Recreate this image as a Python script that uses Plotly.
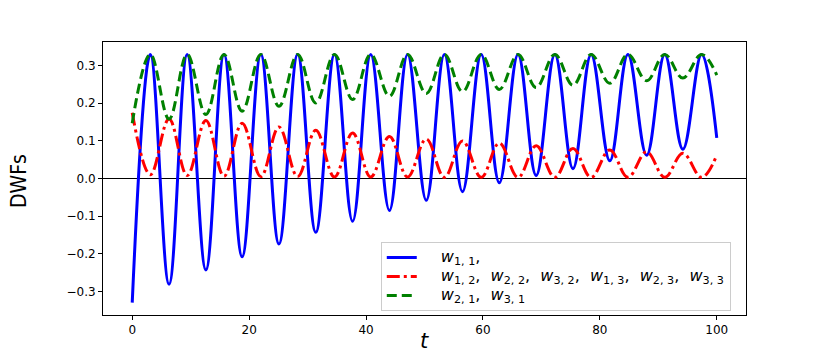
import plotly.graph_objects as go

# time points of the extrema (troughs / peaks alternate)
t = [0, 3.1, 6.3, 9.4, 12.6, 15.7, 18.8, 22.0, 25.1, 28.3, 31.4, 34.6, 37.7,
     40.8, 44.0, 47.1, 50.3, 53.4, 56.5, 59.7, 62.8, 66.0, 69.1, 72.3, 75.4,
     78.5, 81.7, 84.8, 88.0, 91.1, 94.2, 97.4, 100.0]

w11 = [-0.330, 0.330, -0.281, 0.330, -0.243, 0.330, -0.208, 0.330, -0.174,
       0.330, -0.143, 0.330, -0.114, 0.330, -0.085, 0.330, -0.058, 0.330,
       -0.035, 0.330, -0.011, 0.330, 0.008, 0.330, 0.026, 0.330, 0.047,
       0.330, 0.062, 0.330, 0.078, 0.330, 0.108]

w12 = [0.175, 0.010, 0.158, 0.008, 0.154, 0.006, 0.147, 0.005, 0.137, 0.005,
       0.128, 0.004, 0.121, 0.004, 0.112, 0.004, 0.105, 0.003, 0.100, 0.003,
       0.094, 0.003, 0.087, 0.003, 0.080, 0.003, 0.076, 0.003, 0.071, 0.003,
       0.067, 0.003, 0.062]

w21 = [0.147, 0.330, 0.158, 0.330, 0.170, 0.330, 0.179, 0.330, 0.192, 0.330,
       0.201, 0.330, 0.210, 0.330, 0.219, 0.330, 0.226, 0.330, 0.231, 0.330,
       0.237, 0.330, 0.242, 0.330, 0.248, 0.330, 0.253, 0.330, 0.260, 0.330,
       0.267, 0.330, 0.275]

sep = ",&nbsp; "
labels = [
    "<i>w</i><sub>1, 1</sub>,",
    sep.join(["<i>w</i><sub>1, 2</sub>", "<i>w</i><sub>2, 2</sub>", "<i>w</i><sub>3, 2</sub>",
              "<i>w</i><sub>1, 3</sub>", "<i>w</i><sub>2, 3</sub>", "<i>w</i><sub>3, 3</sub>"]),
    sep.join(["<i>w</i><sub>2, 1</sub>", "<i>w</i><sub>3, 1</sub>"]),
]
names = ['&nbsp;&nbsp;&nbsp;&nbsp;&nbsp;<span style="font-size:16px">' + s + '</span>'
         for s in labels]

x_ticks = [0, 20, 40, 60, 80, 100]
y_ticks = [-0.3, -0.2, -0.1, 0.0, 0.1, 0.2, 0.3]

fig = go.Figure()
fig.add_trace(go.Scatter(x=t, y=w11, mode="lines", name=names[0],
                         line=dict(color="#0000ff", width=3, shape="spline", smoothing=1.1)))
fig.add_trace(go.Scatter(x=t, y=w12, mode="lines", name=names[1],
                         line=dict(color="#ff0000", width=3, shape="spline", smoothing=1.1,
                                   dash="13px,4px,3px,4px")))
fig.add_trace(go.Scatter(x=t, y=w21, mode="lines", name=names[2],
                         line=dict(color="#008000", width=3, shape="spline", smoothing=1.1,
                                   dash="10px,5px")))

axis_common = dict(showgrid=False, showline=True, mirror=True, linecolor="black",
                   linewidth=1, ticks="outside", ticklen=4, tickwidth=1,
                   tickcolor="black", tickfont=dict(family="DejaVu Sans", size=12, color="black"))

fig.update_xaxes(range=[-5, 105], tickvals=x_ticks, zeroline=False, **axis_common)
fig.update_yaxes(range=[-0.363, 0.363], tickvals=y_ticks, tickformat=".1f",
                 zeroline=True, zerolinecolor="black", zerolinewidth=1.3, **axis_common)

fig.add_annotation(text="DWFs", xref="paper", yref="paper", x=-0.1306, y=0.491,
                   textangle=-90, showarrow=False, xanchor="center", yanchor="middle",
                   font=dict(family="DejaVu Sans Condensed, Liberation Sans Narrow, DejaVu Sans",
                             size=21, color="black"))
fig.add_annotation(text="<i>t</i>", xref="paper", yref="paper", x=0.5, y=-0.097,
                   showarrow=False, xanchor="center", yanchor="middle",
                   font=dict(family="DejaVu Sans", size=21, color="black"))

# page body has an 8px margin, so the figure is offset by 8px
fig.update_layout(
    width=814, height=346,
    margin=dict(l=95, r=76, t=34, b=39),
    paper_bgcolor="white", plot_bgcolor="white",
    showlegend=True,
    legend=dict(x=0.432, y=0.015, xanchor="left", yanchor="bottom",
                bgcolor="rgba(255,255,255,0.8)", bordercolor="#cccccc", borderwidth=1,
                font=dict(family="DejaVu Sans", size=12, color="black"),
                tracegroupgap=0, itemwidth=30),
)

fig.write_html("out.html")
